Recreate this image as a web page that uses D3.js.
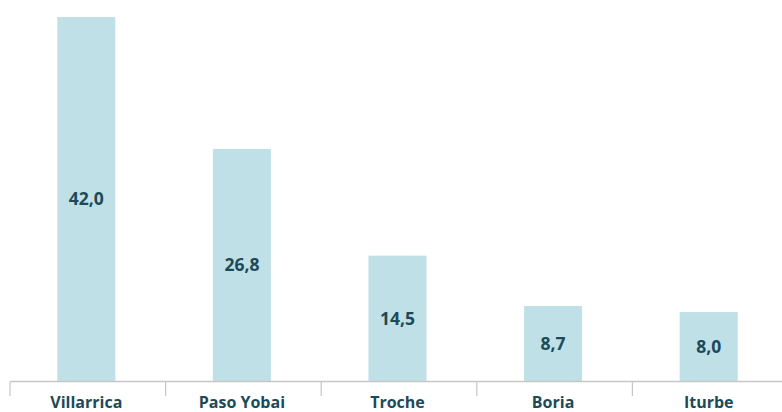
<!DOCTYPE html>
<html>
<head>
<meta charset="utf-8">
<script src="https://cdn.jsdelivr.net/npm/d3@7"></script>
<style>
  body { margin: 0; background: #fff; }
  svg { display: block; }
</style>
</head>
<body>
<div id="chart"></div>
<script>
const categories = ['Villarrica', 'Paso Yobai', 'Troche', 'Boria', 'Iturbe'];
const values = [42.0, 26.8, 14.5, 8.7, 8.0];

const svgWidth = 782;
const svgHeight = 412;
const baseline = 381.5;

const svg = d3.select('#chart')
  .append('svg')
  .attr('width', svgWidth)
  .attr('height', svgHeight);

const xScale = d3.scaleBand()
  .domain(categories)
  .range([10, 788])
  .paddingInner(0.627)
  .paddingOuter(0.3135);

const yScale = d3.scaleLinear()
  .domain([0, 42])
  .range([baseline, 17]);

const fmt = v => v.toFixed(1).replace('.', ',');
const font = '"Open Sans", sans-serif';

// barras
svg.selectAll('.bar')
  .data(categories)
  .join('rect')
  .attr('class', 'bar')
  .attr('x', d => xScale(d) - 1.5)
  .attr('y', (d, i) => yScale(values[i]))
  .attr('width', xScale.bandwidth())
  .attr('height', (d, i) => yScale(0) - yScale(values[i]))
  .attr('fill', '#bfe0e6');

// etiquetas de valor
svg.selectAll('.val')
  .data(categories)
  .join('text')
  .attr('class', 'val')
  .attr('x', d => xScale(d) - 1.5 + xScale.bandwidth() / 2)
  .attr('y', (d, i) => (yScale(values[i]) + yScale(0)) / 2)
  .attr('dy', '0.35em')
  .attr('text-anchor', 'middle')
  .attr('font-family', font)
  .attr('font-weight', 'bold')
  .attr('font-size', 17.5)
  .attr('fill', '#1d4a58')
  .text((d, i) => fmt(values[i]));

// eje x
const step = xScale.step();
svg.append('line')
  .attr('x1', 10)
  .attr('x2', svgWidth)
  .attr('y1', baseline)
  .attr('y2', baseline)
  .attr('stroke', '#c6c6c6')
  .attr('stroke-width', 1.5);

const tickPos = d3.range(categories.length).map(i => 10 + i * step);
svg.selectAll('.tick')
  .data(tickPos)
  .join('line')
  .attr('class', 'tick')
  .attr('x1', d => d)
  .attr('x2', d => d)
  .attr('y1', baseline)
  .attr('y2', 396)
  .attr('stroke', '#c6c6c6')
  .attr('stroke-width', 1.2);

svg.selectAll('.cat')
  .data(categories)
  .join('text')
  .attr('class', 'cat')
  .attr('x', d => xScale(d) - 1.5 + xScale.bandwidth() / 2)
  .attr('y', 408)
  .attr('text-anchor', 'middle')
  .attr('font-family', font)
  .attr('font-weight', 'bold')
  .attr('font-size', 16)
  .attr('fill', '#1d4a58')
  .text(d => d);
</script>
</body>
</html>
